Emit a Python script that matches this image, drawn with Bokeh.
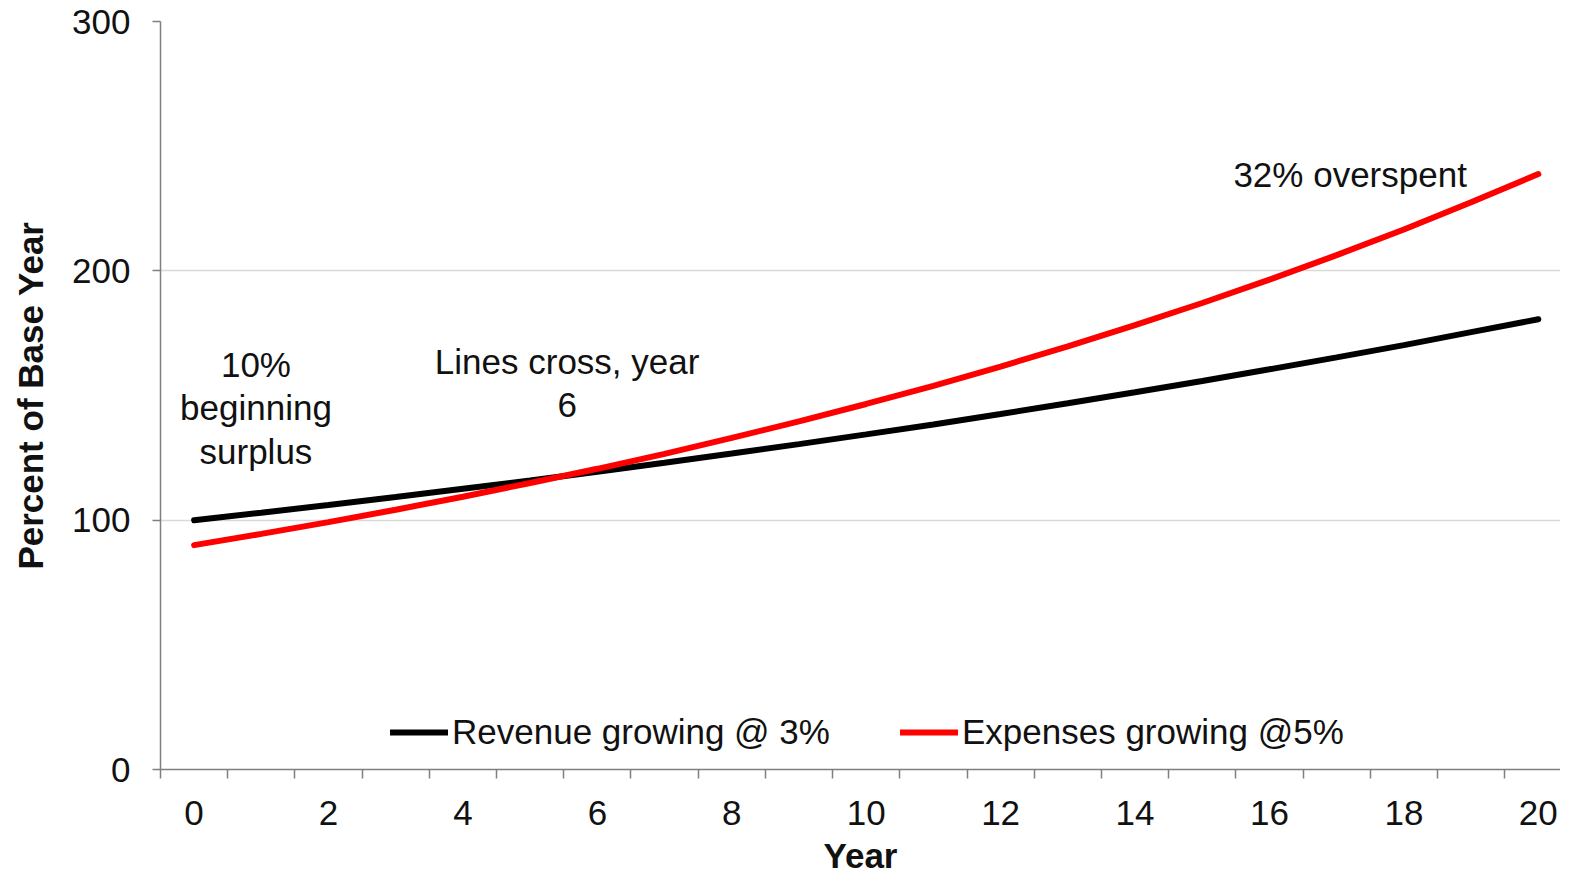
from bokeh.plotting import figure
from bokeh.models import ColumnDataSource, FixedTicker, Legend, LegendItem, Range1d
from bokeh.core.properties import value
from bokeh.embed import file_html
from bokeh.resources import INLINE

years = list(range(21))
revenue = [100.0, 103.0, 106.1, 109.3, 112.6, 115.9, 119.4, 123.0, 126.7, 130.5,
           134.4, 138.4, 142.6, 146.9, 151.3, 155.8, 160.5, 165.3, 170.2, 175.4, 180.6]
expenses = [90.0, 94.5, 99.2, 104.2, 109.4, 114.9, 120.6, 126.6, 133.0, 139.6,
            146.6, 153.9, 161.6, 169.7, 178.2, 187.1, 196.5, 206.3, 216.6, 227.5, 238.8]
x_tick_labels = [0, 2, 4, 6, 8, 10, 12, 14, 16, 18, 20]
y_tick_labels = [0, 100, 200, 300]
series_names = ["Revenue growing @ 3%", "Expenses growing @5%"]

FONT = "Liberation Sans"
TXT = "#111111"
AX = "#7f7f7f"

src = ColumnDataSource(dict(year=years, revenue=revenue, expenses=expenses))

p = figure(width=1560, height=859, output_backend="svg", toolbar_location=None,
           x_range=Range1d(-0.5, 20.33), y_range=Range1d(0, 300),
           min_border_left=160, min_border_right=0, min_border_top=21, min_border_bottom=90)
p.frame_width = 1400
p.frame_height = 748
p.outline_line_color = None
p.background_fill_color = "white"

r1 = p.line("year", "revenue", source=src, line_color="black", line_width=6, line_cap="round")
r2 = p.line("year", "expenses", source=src, line_color="#ff0000", line_width=6, line_cap="round")

# x axis
p.xaxis.ticker = FixedTicker(ticks=x_tick_labels, minor_ticks=[i - 0.5 for i in range(22)])
p.xaxis.major_tick_line_color = None
p.xaxis.minor_tick_out = 9
p.xaxis.minor_tick_in = 0
p.xaxis.minor_tick_line_color = AX
p.xaxis.minor_tick_line_width = 1.5
p.xaxis.major_label_standoff = 22
p.xaxis.axis_label = "Year"
p.xaxis.axis_label_standoff = 8

# y axis
p.yaxis.ticker = FixedTicker(ticks=y_tick_labels)
p.yaxis.major_tick_out = 8
p.yaxis.major_tick_in = 0
p.yaxis.minor_tick_line_color = None
p.yaxis.major_tick_line_color = AX
p.yaxis.major_tick_line_width = 1.5
p.yaxis.major_label_standoff = 22
p.yaxis.axis_label = "Percent of Base Year"
p.yaxis.axis_label_standoff = 19

for ax in (p.xaxis, p.yaxis):
    ax.axis_line_color = AX
    ax.axis_line_width = 1.5
    ax.major_label_text_font = FONT
    ax.major_label_text_font_size = "35px"
    ax.major_label_text_color = TXT
    ax.axis_label_text_font = FONT
    ax.axis_label_text_font_size = "35px"
    ax.axis_label_text_font_style = "bold"
    ax.axis_label_text_color = TXT

p.xgrid.grid_line_color = None
p.ygrid.grid_line_color = "#d9d9d9"
p.ygrid.grid_line_width = 1.5

# annotations
ann_x = [0.92, 5.55, 17.2]
ann_y = [145.0, 155.0, 238.8]
ann_t = ["10%\nbeginning\nsurplus", "Lines cross, year\n6", "32% overspent"]
p.text(x=ann_x, y=ann_y, text=ann_t, text_font=value(FONT), text_font_size="35px",
       text_color=TXT, text_align="center", text_baseline="middle", text_line_height=1.12)

legend = Legend(items=[LegendItem(label=series_names[0], renderers=[r1]),
                       LegendItem(label=series_names[1], renderers=[r2])],
                orientation="horizontal", location=(230, 17),
                glyph_width=58, glyph_height=40, label_height=40, label_standoff=4,
                spacing=70, padding=0, margin=0,
                border_line_color=None, background_fill_alpha=0,
                label_text_font=FONT, label_text_font_size="35px", label_text_color=TXT)
p.add_layout(legend)

open("out.html", "w").write(file_html(p, INLINE))
